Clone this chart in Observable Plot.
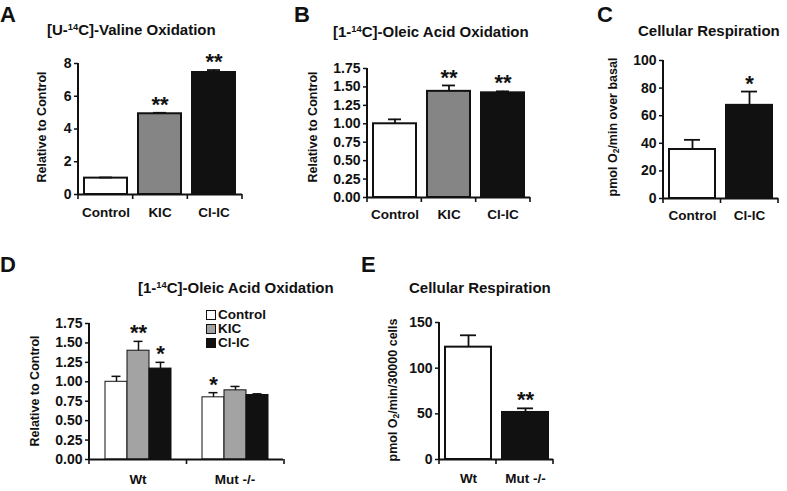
<!DOCTYPE html>
<html>
<head>
<meta charset="utf-8">
<script src="https://cdn.jsdelivr.net/npm/d3@7"></script>
<script src="https://cdn.jsdelivr.net/npm/@observablehq/plot@0.6"></script>
<style>
  body { margin: 0; background: #fff; }
  #fig { position: relative; width: 787px; height: 491px; overflow: hidden; background: #fff;
         font-family: "Liberation Sans", Arial, Helvetica, sans-serif; font-weight: bold; color: #111; }
  .abs { position: absolute; white-space: nowrap; line-height: 1; }
  .letter { font-size: 22px; }
  .title { font-size: 15px; }
  .ylab { font-size: 12.5px; transform: translate(-50%, -50%) rotate(-90deg); }
  .leg { font-size: 13.5px; line-height: 12px; height: 12px; display: flex; align-items: center; }
  .sw { width: 8px; height: 8px; border: 1px solid #111; margin-right: 2px; }
  sup { font-size: 0.62em; vertical-align: 0.5em; line-height: 0; }
  sub { font-size: 0.68em; vertical-align: -0.25em; line-height: 0; }
</style>
</head>
<body>
<div id="fig"></div>
<script>
// ---------------- data ----------------
// Panel A: [U-14C]-Valine oxidation
const catsA = ["Control", "KIC", "Cl-IC"];
const valsA = [1.0, 4.93, 7.45];
const errsA = [0.04, 0.06, 0.15];
const sigsA = ["", "**", "**"];
const ticksA = [0, 2, 4, 6, 8];

// Panel B: [1-14C]-Oleic acid oxidation
const catsB = ["Control", "KIC", "Cl-IC"];
const valsB = [1.0, 1.44, 1.42];
const errsB = [0.06, 0.08, 0.02];
const sigsB = ["", "**", "**"];
const ticksB = [0, 0.25, 0.5, 0.75, 1.0, 1.25, 1.5, 1.75];

// Panel C: Cellular respiration
const catsC = ["Control", "Cl-IC"];
const valsC = [35.5, 67.5];
const errsC = [7, 10];
const sigsC = ["", "*"];
const ticksC = [0, 20, 40, 60, 80, 100];

// Panel D: [1-14C]-Oleic acid oxidation, Wt vs Mut -/-
const groupsD = ["Wt", "Mut -/-"];
const catsD = ["Control", "KIC", "Cl-IC"];
const valsDWt = [1.0, 1.40, 1.17];
const errsDWt = [0.07, 0.12, 0.08];
const sigsDWt = ["", "**", "*"];
const valsDMut = [0.80, 0.89, 0.83];
const errsDMut = [0.06, 0.05, 0.015];
const sigsDMut = ["*", "", ""];
const ticksD = [0, 0.25, 0.5, 0.75, 1.0, 1.25, 1.5, 1.75];

// Panel E: Cellular respiration, Wt vs Mut -/-
const catsE = ["Wt", "Mut -/-"];
const valsE = [123, 51.5];
const errsE = [13, 4.5];
const sigsE = ["", "**"];
const ticksE = [0, 50, 100, 150];

// ---------------- styles ----------------
const INK = "#111";
const FONT = '"Liberation Sans", Arial, Helvetica, sans-serif';
const fillABC = {"Control": "#ffffff", "KIC": "#858585", "Cl-IC": "#111111", "Wt": "#ffffff", "Mut -/-": "#111111"};
const fillD = {"Control": "#ffffff", "KIC": "#a3a3a3", "Cl-IC": "#111111"};

const fig = document.getElementById("fig");

function rowsOf(cats, vals, errs, sigs, grp) {
  return cats.map((c, i) => ({cat: c, val: vals[i], err: errs[i], sig: sigs[i], grp}));
}

// y-axis line and x-axis division ticks (Excel style) drawn between category bands
function divisionTicks(x0, x1, nDiv, yMax, once) {
  let done = false;
  return (index, scales) => {
    if (once && done) return null;
    done = true;
    const yBase = scales.y(0), yTop = scales.y(yMax);
    const g = d3.create("svg:g").attr("stroke", INK).attr("fill", "none");
    g.append("line").attr("x1", x0).attr("x2", x0).attr("y1", yTop).attr("y2", yBase + 1).attr("stroke-width", 2);
    for (let k = 0; k <= nDiv; k++) {
      const x = x0 + k * (x1 - x0) / nDiv;
      g.append("line").attr("x1", x).attr("x2", x).attr("y1", yBase).attr("y2", yBase + 5).attr("stroke-width", 1.6);
    }
    return g.node();
  };
}

function panel(p) {
  const {left, top, W, H, mL, mT, mR, mB} = p.box;
  const faceted = !!p.groups;
  const F = o => faceted ? {...o, fx: "grp"} : o;
  const yMax = p.yTicks[p.yTicks.length - 1];
  const marks = [
    Plot.barY(p.rows, F({x: "cat", y: "val", fill: d => p.fills[d.cat], stroke: INK, strokeWidth: p.barStroke})),
    Plot.ruleX(p.rows, F({x: "cat", y1: "val", y2: d => d.val + d.err, stroke: INK, strokeWidth: p.errStroke})),
    Plot.tickY(p.rows, F({x: "cat", y: d => d.val + d.err, stroke: INK, strokeWidth: p.errStroke,
                          insetLeft: p.capInset, insetRight: p.capInset})),
    Plot.text(p.rows, F({x: "cat", y: d => d.val + d.err, text: "sig", dy: -8, fontSize: 22,
                         fontWeight: "bold", fill: INK, fontFamily: FONT})),
    Plot.ruleY([0], {stroke: INK, strokeWidth: 2}),
    Plot.axisY({ticks: p.yTicks, tickFormat: p.yFmt, tickSize: 4, tickPadding: 3, fontSize: 14,
                fontWeight: "bold", fontFamily: FONT, label: null, strokeWidth: 1.5}),
    faceted
      ? Plot.axisFx({anchor: "bottom", tickSize: 0, tickPadding: p.labPad, fontSize: 13.5,
                     fontWeight: "bold", fontFamily: FONT, label: null})
      : Plot.axisX({tickSize: 0, tickPadding: p.labPad, fontSize: 13.5, fontWeight: "bold",
                    fontFamily: FONT, label: null}),
    divisionTicks(mL, W - mR, p.nDiv, yMax, faceted)
  ];
  const opts = {
    width: W, height: H, marginLeft: mL, marginTop: mT, marginRight: mR, marginBottom: mB,
    style: `background: none; overflow: visible; color: ${INK}; font-family: ${FONT}; font-weight: bold;`,
    y: {domain: [0, yMax]},
    marks
  };
  if (faceted) {
    opts.fx = {domain: p.groups, padding: 0, label: null};
    opts.x = {domain: p.cats, paddingInner: 0, paddingOuter: p.outer, axis: null};
  } else {
    opts.x = {domain: p.cats, paddingInner: 0.2, paddingOuter: 0.1, label: null};
  }
  const svg = Plot.plot(opts);
  const wrap = document.createElement("div");
  wrap.style.cssText = `position:absolute;left:${left}px;top:${top}px;width:${W}px;height:${H}px;`;
  wrap.appendChild(svg);
  fig.appendChild(wrap);
}

const fmt2 = d3.format(".2f");

panel({box: {left: 0, top: 40, W: 260, H: 190, mL: 78, mT: 23, mR: 18, mB: 36},
  cats: catsA, rows: rowsOf(catsA, valsA, errsA, sigsA), yTicks: ticksA, yFmt: d3.format("d"),
  fills: fillABC, barStroke: 2, errStroke: 1.8, capInset: 15, labPad: 13, nDiv: catsA.length});

panel({box: {left: 262, top: 40, W: 290, H: 190, mL: 105, mT: 28, mR: 22, mB: 33},
  cats: catsB, rows: rowsOf(catsB, valsB, errsB, sigsB), yTicks: ticksB, yFmt: fmt2,
  fills: fillABC, barStroke: 2, errStroke: 1.8, capInset: 15, labPad: 12, nDiv: catsB.length});

panel({box: {left: 560, top: 40, W: 227, H: 190, mL: 103, mT: 20, mR: 9, mB: 32},
  cats: catsC, rows: rowsOf(catsC, valsC, errsC, sigsC), yTicks: ticksC, yFmt: d3.format("d"),
  fills: fillABC, barStroke: 2, errStroke: 1.8, capInset: 15, labPad: 12, nDiv: catsC.length});

panel({box: {left: 0, top: 300, W: 300, H: 190, mL: 88, mT: 23, mR: 17, mB: 31},
  groups: groupsD, cats: catsD,
  rows: rowsOf(catsD, valsDWt, errsDWt, sigsDWt, groupsD[0]).concat(rowsOf(catsD, valsDMut, errsDMut, sigsDMut, groupsD[1])),
  yTicks: ticksD, yFmt: fmt2, fills: fillD, barStroke: 1, errStroke: 1.5, capInset: 6.5,
  outer: 0.7, labPad: 15, nDiv: groupsD.length});

panel({box: {left: 360, top: 300, W: 220, H: 190, mL: 79, mT: 22, mR: 27, mB: 31},
  cats: catsE, rows: rowsOf(catsE, valsE, errsE, sigsE), yTicks: ticksE, yFmt: d3.format("d"),
  fills: fillABC, barStroke: 2, errStroke: 1.8, capInset: 15, labPad: 14, nDiv: catsE.length});

// ---------------- text labels ----------------
function addText(cls, html, left, top) {
  const d = document.createElement("div");
  d.className = "abs " + cls;
  d.innerHTML = html;
  d.style.left = left + "px";
  d.style.top = top + "px";
  fig.appendChild(d);
  return d;
}

addText("letter", "A", 0, 4);
addText("letter", "B", 294, 4);
addText("letter", "C", 597, 4);
addText("letter", "D", 0, 254);
addText("letter", "E", 361, 254);

addText("title", "[U-<sup>14</sup>C]-Valine Oxidation", 47, 22);
addText("title", "[1-<sup>14</sup>C]-Oleic Acid Oxidation", 333, 24);
addText("title", "Cellular Respiration", 638, 23);
addText("title", "[1-<sup>14</sup>C]-Oleic Acid Oxidation", 138, 280);
addText("title", "Cellular Respiration", 409, 280);

addText("ylab", "Relative to Control", 42, 127);
addText("ylab", "Relative to Control", 313, 127);
addText("ylab", "pmol O<sub>2</sub>/min over basal", 613, 127);
addText("ylab", "Relative to Control", 35, 391);
addText("ylab", "pmol O<sub>2</sub>/min/30000 cells", 393, 390);

// legend for panel D
catsD.forEach((c, i) => {
  addText("leg", `<span class="sw" style="background:${fillD[c]}"></span>${c}`, 206, 309 + i * 14);
});
</script>
</body>
</html>
